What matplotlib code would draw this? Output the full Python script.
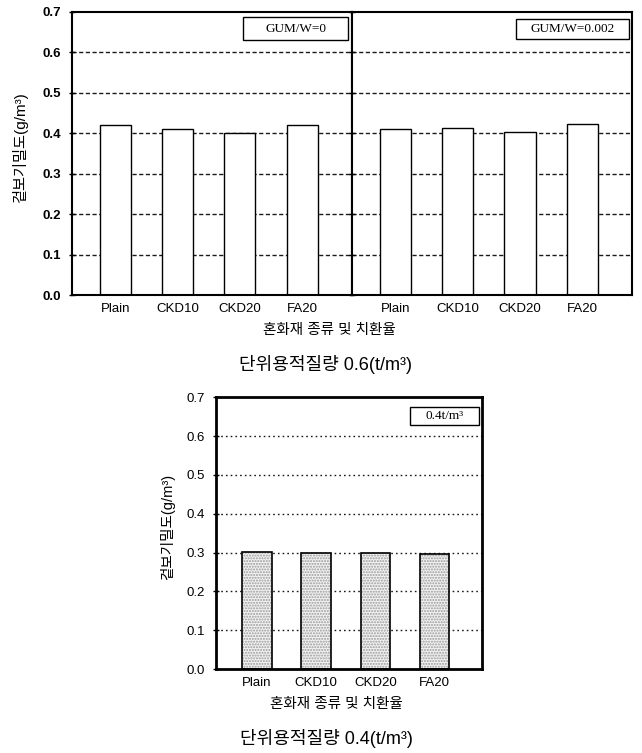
import numpy as np
import matplotlib
matplotlib.use("Agg")
import matplotlib.pyplot as plt
from matplotlib.patches import Rectangle

plt.rcParams['font.family'] = ['Liberation Sans', 'Noto Sans CJK KR', 'DejaVu Sans']
KR = ['Liberation Sans', 'Noto Sans CJK KR', 'DejaVu Sans']

# unit weight 0.6 t/m3, two gum dosages
mixes = ["Plain", "CKD10", "CKD20", "FA20"]
density_gum0 = [0.42, 0.41, 0.40, 0.42]
density_gum002 = [0.41, 0.413, 0.402, 0.423]
# unit weight 0.4 t/m3
density_04 = [0.302, 0.298, 0.299, 0.297]

yticks = [0.0, 0.1, 0.2, 0.3, 0.4, 0.5, 0.6, 0.7]
ylabel = "겉보기밀도(g/m³)"
xlabel = "혼화재 종류 및 치환율"

W, H = 642, 753
fig = plt.figure(figsize=(W / 100, H / 100), dpi=100)


def px_axes(x0, y0, x1, y1):
    return fig.add_axes([x0 / W, 1 - y1 / H, (x1 - x0) / W, (y1 - y0) / H])


def style_panel(ax, grid_ls, spine_lw, show_labels, bold):
    x = np.arange(len(mixes))
    ax.set_xlim(-0.7, 3.8)
    ax.set_ylim(0, 0.7)
    ax.set_yticks(yticks)
    for y in yticks[1:-1]:
        ax.axhline(y, color="#1a1a1a", lw=1.0, ls=grid_ls, zorder=0)
    ax.set_xticks(x)
    ax.set_xticklabels(mixes, fontsize=9.5)
    ax.tick_params(axis="x", length=0, pad=6)
    ax.tick_params(axis="y", direction="inout", length=5, width=1, pad=5)
    if show_labels:
        ax.set_yticklabels([f"{v:.1f}" for v in yticks], fontsize=9.5,
                           fontweight="bold" if bold else "normal")
    else:
        ax.set_yticklabels([])
    for s in ax.spines.values():
        s.set_linewidth(spine_lw)


def label_box(ax, x0, y0, x1, y1, text, tx):
    ax.add_patch(Rectangle((x0, y0), x1 - x0, y1 - y0, transform=ax.transAxes,
                           fill=False, lw=1.0, ec="black", zorder=5))
    ax.text(tx, (y0 + y1) / 2, text, transform=ax.transAxes, ha="center",
            va="center", fontsize=9.5, family="Liberation Serif", zorder=6)


# upper figure: two panels sharing the divider line
ax1 = px_axes(71.7, 12, 352, 295)
ax2 = px_axes(352, 12, 632, 295)
x = np.arange(len(mixes))
for ax, vals in ((ax1, density_gum0), (ax2, density_gum002)):
    style_panel(ax, (0, (3, 1.8)), 1.5, ax is ax1, True)
    ax.bar(x, vals, width=0.5, color="white", edgecolor="black", lw=1.0, zorder=2)
label_box(ax1, 0.611, 0.901, 0.986, 0.982, "GUM/W=0", 0.80)
label_box(ax2, 0.586, 0.905, 0.989, 0.975, "GUM/W=0.002", 0.787)

fig.text(20 / W, 1 - 148 / H, ylabel, rotation=90, ha="center", va="center",
         fontsize=11, family=KR)
fig.text(329 / W, 1 - 330 / H, xlabel, ha="center", va="center",
         fontsize=10.5, family=KR)
fig.text(326 / W, 1 - 365 / H, "단위용적질량 0.6(t/m³)", ha="center", va="center",
         fontsize=13, family=KR)

# lower figure
ax3 = px_axes(215.7, 397.3, 481.7, 669)
style_panel(ax3, (0, (1.2, 2.2)), 2.0, True, False)
ax3.bar(x, density_04, width=0.5, color="#f2f2f2", edgecolor="#9a9a9a",
        hatch="......", lw=0, zorder=2)
ax3.bar(x, density_04, width=0.5, fill=False, edgecolor="black", lw=1.2, zorder=3)
label_box(ax3, 0.730, 0.898, 0.990, 0.964, "0.4t/m³", 0.86)

fig.text(168 / W, 1 - 527 / H, ylabel, rotation=90, ha="center", va="center",
         fontsize=10.5, family=KR)
fig.text(336 / W, 1 - 704 / H, xlabel, ha="center", va="center",
         fontsize=10.5, family=KR)
fig.text(326 / W, 1 - 738 / H, "단위용적질량 0.4(t/m³)", ha="center", va="center",
         fontsize=13, family=KR)

fig.savefig("out.png", dpi=100)
